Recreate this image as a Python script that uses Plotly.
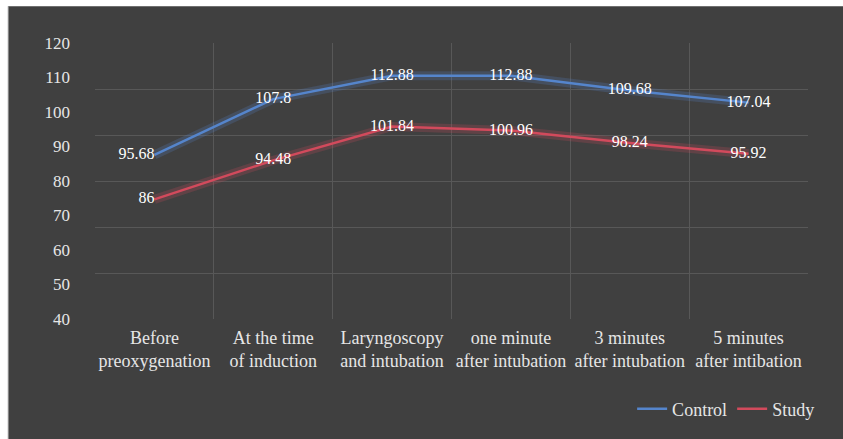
import plotly.graph_objects as go

# Chart data
categories = [
    "Before<br>preoxygenation",
    "At the time<br>of induction",
    "Laryngoscopy<br>and intubation",
    "one minute<br>after intubation",
    "3 minutes<br>after intubation",
    "5 minutes<br>after intibation",
]
control = [95.68, 107.8, 112.88, 112.88, 109.68, 107.04]
study = [86, 94.48, 101.84, 100.96, 98.24, 95.92]
y_tick_labels = [40, 50, 60, 70, 80, 90, 100, 110, 120]

FONT = "Liberation Serif"
BG = "#404040"
GRID = "#585858"
BLUE = "#5585cc"
RED = "#d24a5c"

x_pos = list(range(len(categories)))
label_pos = ["middle left"] + ["middle center"] * (len(categories) - 1)


def glow_trace(values, color):
    """Soft wide line underneath the main line (Excel glow look)"""
    return go.Scatter(
        x=x_pos, y=values, mode="lines",
        line=dict(color=color, width=9),
        hoverinfo="skip", showlegend=False
    )


def series_trace(values, name, color):
    return go.Scatter(
        x=x_pos, y=values, mode="lines+text", name=name,
        line=dict(color=color, width=2.5),
        text=[f"{v:g}" for v in values],
        textposition=label_pos,
        textfont=dict(family=FONT, size=16, color="#ffffff"),
        cliponaxis=False
    )


fig = go.Figure()
fig.add_trace(glow_trace(control, "rgba(85,133,204,0.22)"))
fig.add_trace(glow_trace(study, "rgba(210,74,92,0.22)"))
fig.add_trace(series_trace(control, "Control", BLUE))
fig.add_trace(series_trace(study, "Study", RED))
# empty trace so the label axis (y2) gets drawn
fig.add_trace(go.Scatter(x=[], y=[], yaxis="y2", showlegend=False, hoverinfo="skip"))

# thin white band along the top and left edge of the picture
fig.add_shape(type="rect", xref="paper", yref="paper",
              x0=-0.2, x1=1.2, y0=1.133, y1=1.3,
              fillcolor="#ffffff", line=dict(width=0), layer="below")
fig.add_shape(type="rect", xref="paper", yref="paper",
              x0=-0.2, x1=-0.122, y0=-0.6, y1=1.3,
              fillcolor="#ffffff", line=dict(width=0), layer="below")
fig.add_shape(type="line", xref="paper", yref="paper",
              x0=-0.122, x1=-0.122, y0=-0.6, y1=1.133,
              line=dict(color="#c8c8c8", width=1), layer="below")

fig.update_layout(
    width=843, height=439,
    margin=dict(l=95, r=35, t=43, b=117),
    paper_bgcolor=BG,
    plot_bgcolor="rgba(0,0,0,0)",
    font=dict(family=FONT, color="#d9d9d9"),
    xaxis=dict(
        range=[-0.5, len(categories) - 0.5],
        tickvals=x_pos, ticktext=categories,
        tickfont=dict(family=FONT, size=18, color="#e6e6e6"),
        showgrid=False, zeroline=False, showline=False,
        ticks="", ticklabelstandoff=6,
        minor=dict(tick0=-0.5, dtick=1, showgrid=True, gridcolor=GRID, gridwidth=1)
    ),
    yaxis=dict(
        range=[60, 120], dtick=10,
        showgrid=True, gridcolor=GRID, gridwidth=1,
        zeroline=False, showticklabels=False
    ),
    yaxis2=dict(
        overlaying="y", side="left", anchor="x",
        range=[y_tick_labels[0], y_tick_labels[-1]],
        tickvals=y_tick_labels,
        tickfont=dict(family=FONT, size=17, color="#e6e6e6"),
        showgrid=False, zeroline=False, showline=False,
        ticks="", ticklabelstandoff=24
    ),
    legend=dict(
        orientation="h", x=1.017, xanchor="right", y=-0.326, yanchor="middle",
        font=dict(family=FONT, size=18, color="#e6e6e6"),
        bgcolor="rgba(0,0,0,0)", itemwidth=30
    ),
    showlegend=True
)

# drop the default page margin / scrollbars so the figure fills the window exactly
page_css = (
    "document.documentElement.style.overflow = 'hidden';"
    "document.body.style.overflow = 'hidden';"
    "document.body.style.margin = '0px';"
    "document.body.style.background = '" + BG + "';"
)
fig.write_html("out.html", config={"displayModeBar": False}, post_script=page_css)
